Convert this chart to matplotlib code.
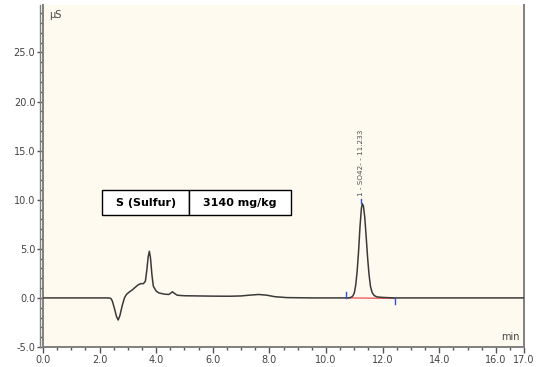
import matplotlib
matplotlib.use("Agg")
import matplotlib.pyplot as plt
import matplotlib.transforms as mtransforms
from matplotlib.lines import Line2D
from matplotlib.ticker import MultipleLocator, FixedLocator

# chromatogram trace (time in min, conductivity in uS)
time_min = [0.0, 2.3, 2.4, 2.45, 2.52, 2.6, 2.66, 2.72, 2.8, 2.88, 2.95, 3.05,
            3.15, 3.25, 3.35, 3.45, 3.55, 3.62, 3.67, 3.72, 3.76, 3.8, 3.85,
            3.9, 4.0, 4.1, 4.3, 4.45, 4.52, 4.58, 4.65, 4.75, 5.0, 5.5, 6.0,
            6.6, 7.0, 7.3, 7.62, 7.9, 8.2, 8.63, 9.5, 10.8, 10.9, 10.95,
            11.0, 11.05, 11.1, 11.15, 11.2, 11.25, 11.28, 11.32, 11.37, 11.42,
            11.47, 11.52, 11.57, 11.63, 11.7, 11.8, 12.0, 12.4, 17.0]
signal_us = [0.0, 0.0, -0.05, -0.3, -1.0, -1.9, -2.25, -1.8, -0.8, 0.0, 0.35, 0.6,
             0.8, 1.05, 1.3, 1.45, 1.45, 1.7, 2.8, 4.2, 4.75, 4.1, 2.4,
             1.2, 0.7, 0.5, 0.38, 0.35, 0.5, 0.62, 0.45, 0.27, 0.22, 0.2, 0.18,
             0.17, 0.2, 0.28, 0.35, 0.28, 0.12, 0.03, 0.0, 0.0, 0.08, 0.2,
             0.5, 1.3, 2.7, 4.7, 7.2, 9.1, 9.6, 9.4, 8.2, 6.2,
             4.1, 2.4, 1.2, 0.55, 0.25, 0.1, 0.05, 0.0, 0.0]

# integrated peak
peak_label = "1 - SO42- - 11.233"
peak_time = 11.233
peak_height = 9.6
peak_start = 10.72
peak_end = 12.44

table_cells = ["S (Sulfur)", "3140 mg/kg"]

x_ticks = [0, 2, 4, 6, 8, 10, 12, 14, 16, 17]
y_ticks = [-5, 0, 5, 10, 15, 20, 25]

fig = plt.figure(figsize=(5.5, 3.67), dpi=100)
ax = fig.add_axes([0.078, 0.0545, 0.875, 0.931])
ax.set_facecolor("#fffaf0")

ax.plot(time_min, signal_us, color="#3a3a3a", lw=1.1, zorder=3)

# baseline of integration and delimiters
ax.plot([peak_start, peak_end], [0.0, -0.05], color="#f06060", lw=1.0, zorder=2)
ax.plot([peak_start, peak_start], [0.0, 0.6], color="#3050e0", lw=1.0, zorder=4)
ax.plot([peak_end, peak_end], [0.0, -0.6], color="#3050e0", lw=1.0, zorder=4)
ax.plot([peak_time, peak_time], [peak_height + 0.05, peak_height + 0.5],
        color="#3050e0", lw=1.0, zorder=4)
ax.text(peak_time, peak_height + 0.8, peak_label, rotation=90, ha="center",
        va="bottom", fontsize=5.2, color="#505050")

ax.set_xlim(0, 17)
ax.set_ylim(-5, 29.8)
ax.xaxis.set_major_locator(FixedLocator(x_ticks))
ax.xaxis.set_minor_locator(MultipleLocator(0.5))
ax.yaxis.set_major_locator(FixedLocator(y_ticks))
ax.yaxis.set_minor_locator(MultipleLocator(1))
ax.set_xticklabels([f"{v:.1f}" for v in x_ticks])
ax.set_yticklabels([f"{v:.1f}" for v in y_ticks])
ax.tick_params(which="major", length=4, width=1, color="#555555",
               labelsize=7, labelcolor="#444444", pad=1.5)
ax.tick_params(which="minor", length=2.5, width=1, color="#555555")

ax.spines["top"].set_visible(False)
for side in ["left", "right", "bottom"]:
    ax.spines[side].set_color("#808080")
    ax.spines[side].set_linewidth(1.4)

# second line of the double left frame
shift = mtransforms.offset_copy(ax.transAxes, fig=fig, x=-3, y=0, units="dots")
ax.add_line(Line2D([0, 0], [0, 1], transform=shift, color="#808080",
                   lw=1.0, clip_on=False))

ax.text(0.012, 0.985, "µS", transform=ax.transAxes, fontsize=7,
        color="#444444", ha="left", va="top")
ax.text(0.99, 0.015, "min", transform=ax.transAxes, fontsize=7,
        color="#444444", ha="right", va="bottom")

# result table
tbl = ax.table(cellText=[table_cells], cellLoc="center",
               bbox=[0.1235, 0.385, 0.392, 0.0745], colWidths=[0.46, 0.54])
tbl.auto_set_font_size(False)
for cell in tbl.get_celld().values():
    cell.set_facecolor("white")
    cell.set_edgecolor("black")
    cell.set_linewidth(1.0)
    cell.get_text().set_fontsize(8)
    cell.get_text().set_fontweight("semibold")

fig.savefig("out.png", dpi=100)
